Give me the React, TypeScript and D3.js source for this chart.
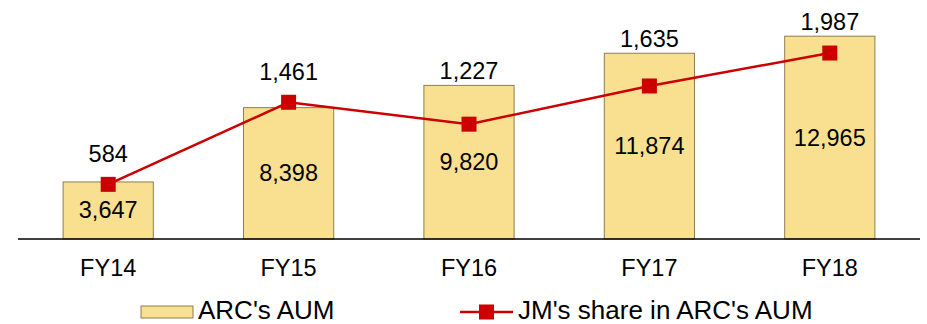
import React from "react";
import * as d3 from "d3";

const categories = ["FY14", "FY15", "FY16", "FY17", "FY18"];
const arcAUM = [3647, 8398, 9820, 11874, 12965];
const jmShare = [584, 1461, 1227, 1635, 1987];
const seriesNames = ["ARC's AUM", "JM's share in ARC's AUM"];

const W = 927;
const H = 324;
const FONT = "'Liberation Sans', Arial, sans-serif";
const fmt = d3.format(",");

export default function App() {
  const x = d3.scaleBand<string>().domain(categories).range([18, 920]).paddingInner(0.5).paddingOuter(0.25);
  const yBar = d3.scaleLinear().domain([0, 14000]).range([239, 20]);
  const yLine = d3.scaleLinear().domain([0, 2340]).range([239, 20]);
  const cx = (c: string) => (x(c) as number) + x.bandwidth() / 2;

  const line = d3
    .line<number>()
    .x((_, i) => cx(categories[i]))
    .y((d) => yLine(d));

  const red = "#CC0000";
  const ms = 15;

  return (
    <svg
      width={W}
      height={H}
      style={{ position: "absolute", left: 0, top: 0, display: "block", background: "#fff" }}
      fontFamily={FONT}
    >
      {categories.map((c, i) => (
        <rect
          key={"b" + c}
          x={x(c)}
          y={yBar(arcAUM[i])}
          width={x.bandwidth()}
          height={yBar(0) - yBar(arcAUM[i])}
          fill="#F9E090"
          stroke="#8C7D55"
          strokeWidth={1}
        />
      ))}
      <line x1={18} x2={920} y1={239} y2={239} stroke="#000" strokeWidth={1.5} />
      <path d={line(jmShare) || ""} fill="none" stroke={red} strokeWidth={2.5} />
      {categories.map((c, i) => (
        <rect
          key={"m" + c}
          x={cx(c) - ms / 2}
          y={yLine(jmShare[i]) - ms / 2}
          width={ms}
          height={ms}
          fill={red}
        />
      ))}
      {categories.map((c, i) => (
        <text
          key={"bl" + c}
          x={cx(c)}
          y={(yBar(arcAUM[i]) + yBar(0)) / 2}
          textAnchor="middle"
          dominantBaseline="central"
          fontSize={23.5}
          fill="#000"
        >
          {fmt(arcAUM[i])}
        </text>
      ))}
      {categories.map((c, i) => (
        <text
          key={"ll" + c}
          x={cx(c)}
          y={Math.min(yLine(jmShare[i]) - 30, yBar(arcAUM[i]) - 14)}
          textAnchor="middle"
          dominantBaseline="central"
          fontSize={23.5}
          fill="#000"
        >
          {fmt(jmShare[i])}
        </text>
      ))}
      {categories.map((c) => (
        <text
          key={"cl" + c}
          x={cx(c)}
          y={268}
          textAnchor="middle"
          dominantBaseline="central"
          fontSize={23.5}
          fill="#000"
        >
          {c}
        </text>
      ))}
      {/* Legend */}
      <rect x={141} y={306} width={52} height={12} fill="#F9E090" stroke="#8C7D55" strokeWidth={1} />
      <text x={198} y={318.5} fontSize={26} fill="#000">
        {seriesNames[0]}
      </text>
      <line x1={460} x2={513} y1={312} y2={312} stroke={red} strokeWidth={2.5} />
      <rect x={486.5 - ms / 2} y={312 - ms / 2} width={ms} height={ms} fill={red} />
      <text x={518} y={318.5} fontSize={26} fill="#000">
        {seriesNames[1]}
      </text>
    </svg>
  );
}
